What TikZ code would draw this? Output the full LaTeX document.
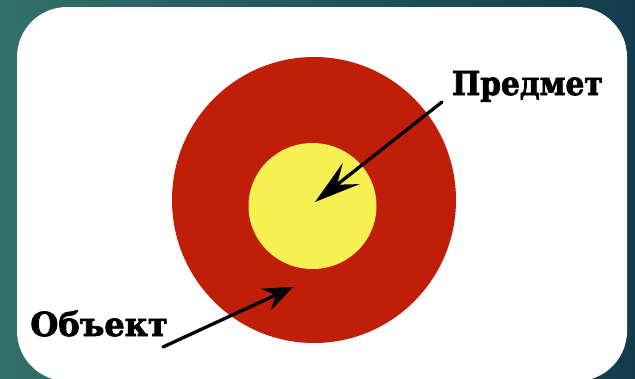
\documentclass[tikz,border=0pt]{standalone}
\usepackage{fontspec}
\newfontfamily\rotulo[FakeBold=2.2]{DejaVu Serif Condensed}
\usetikzlibrary{arrows.meta}

\definecolor{fondoA}{RGB}{50,112,106}
\definecolor{fondoB}{RGB}{18,60,76}
\definecolor{rojo}{RGB}{192,30,8}
\definecolor{amarillo}{RGB}{246,240,82}

\tikzset{
  rotulo/.style={inner sep=0pt,font=\rotulo\bfseries\fontsize{33}{33}\selectfont},
  flecha/.style={->,line width=3.3pt,line cap=round}
}

\begin{document}
\begin{tikzpicture}[x=1pt,y=-1pt]
  % fondo y tarjeta blanca
  \fill[left color=fondoA,right color=fondoB] (0,0) rectangle (635,378);
  \useasboundingbox (0,0) rectangle (635,378);
  \fill[white,rounded corners=50pt] (17,7) rectangle (627,381);
  % discos
  \fill[rojo] (314,200) circle[x radius=142,y radius=143];
  \fill[amarillo] (312.5,206) circle[x radius=64,y radius=63];
  \coordinate (tipP) at (315,202);
  \coordinate (tipO) at (293,287);
  % rotulos
  \node[rotulo,anchor=base west] (pred) at (452,95) {Предмет};
  \node[rotulo,anchor=base east,xscale=1.08] (obj) at (168,336) {Объект};
  % flechas
  \draw[flecha,>={Stealth[length=46pt,width=27pt,inset=18pt]}]
    ([xshift=-10pt,yshift=-7pt]pred.base west) -- (tipP);
  \draw[flecha,>={Stealth[length=30pt,width=24pt,inset=11pt]}]
    ([xshift=-5pt,yshift=-11pt]obj.base east) -- (tipO);
\end{tikzpicture}
\end{document}
